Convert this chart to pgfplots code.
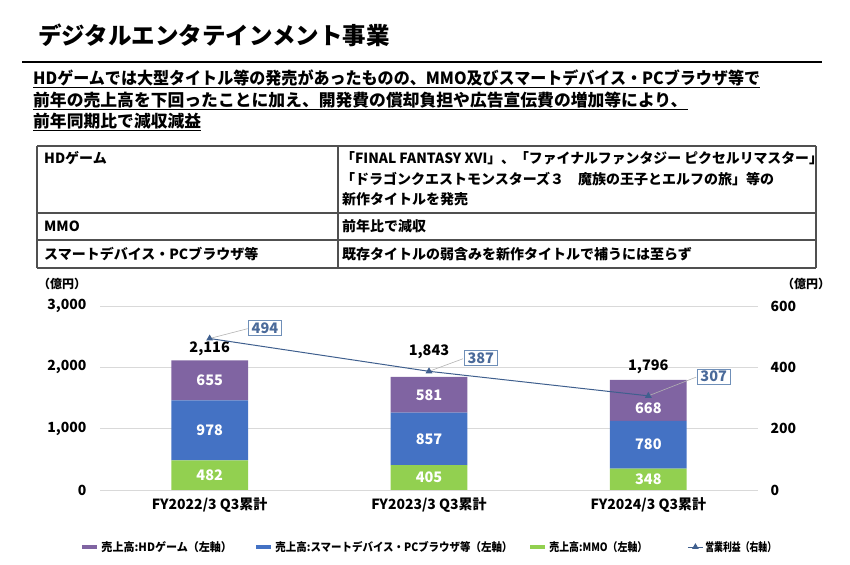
\documentclass[border=0pt]{standalone}
\usepackage{pgfplots}
\pgfplotsset{compat=1.18}
\usepackage{fontspec}
\setmainfont{Noto Sans CJK JP}
\definecolor{hdpurple}{HTML}{8064A2}
\definecolor{smblue}{HTML}{4472C4}
\definecolor{mmogreen}{HTML}{92D050}
\definecolor{oplinecol}{HTML}{3F5F8E}
\definecolor{calloutcol}{HTML}{4A6A9A}
\definecolor{calloutbox}{HTML}{6F8FB8}
\definecolor{gridcol}{HTML}{D9D9D9}
\definecolor{tablecol}{HTML}{505050}
\newcommand{\myfs}[1]{\fontsize{#1bp}{#1bp}\selectfont}
\tikzset{
  barval/.style={font=\myfs{14.5}\bfseries, text=white},
  totval/.style={font=\myfs{14.5}\bfseries, text=black},
  callout/.style={draw=calloutbox, fill=white, text=calloutcol, line width=0.8bp, inner xsep=3bp, inner ysep=2bp, font=\myfs{14.5}\bfseries},
}
\begin{document}
\begin{tikzpicture}
\begin{scope}[x=1bp,y=1bp]
\path[use as bounding box] (0,0) rectangle (850,565);
% title
\node[anchor=west,inner sep=0] at (38,530) {\myfs{23.5}\bfseries デジタルエンタテインメント事業};
\draw[line width=2.2bp] (22,503) -- (822,503);
% header text
\node[anchor=base west,inner sep=0] (h1) at (33,480) {\myfs{16.8}\bfseries\scalebox{0.955}[1]{HDゲームでは大型タイトル等の発売があったものの、MMO及びスマートデバイス・PCブラウザ等で}};
\node[anchor=base west,inner sep=0] (h2) at (33,458) {\myfs{16.8}\bfseries 前年の売上高を下回ったことに加え、開発費の償却負担や広告宣伝費の増加等により、};
\node[anchor=base west,inner sep=0] (h3) at (33,437) {\myfs{16.8}\bfseries 前年同期比で減収減益};
\draw[line width=1.3bp] ([yshift=-2.5bp]h1.base west) -- ([yshift=-2.5bp]h1.base east);
\draw[line width=1.3bp] ([yshift=-2.5bp]h2.base west) -- ([yshift=-2.5bp]h2.base east);
\draw[line width=1.3bp] ([yshift=-2.5bp]h3.base west) -- ([yshift=-2.5bp]h3.base east);
% table
\draw[tablecol,line width=1.4bp] (37,419) -- (816,419);
\draw[tablecol,line width=1.1bp] (37,352) -- (816,352);
\draw[tablecol,line width=1.1bp] (37,325) -- (816,325);
\draw[tablecol,line width=1.4bp] (37,297) -- (816,297);
\draw[tablecol,line width=1.1bp] (37,419) -- (37,297);
\draw[tablecol,line width=1.1bp] (338,419) -- (338,297);
\draw[tablecol,line width=1.1bp] (816,419) -- (816,297);
\node[anchor=west,inner sep=0] at (44,407) {\myfs{14}\bfseries HDゲーム};
\node[anchor=west,inner sep=0] at (341,407) {\myfs{14}\bfseries\scalebox{0.99}[1]{「FINAL FANTASY XVI」、「ファイナルファンタジー ピクセルリマスター」}};
\node[anchor=west,inner sep=0] at (341,386) {\myfs{14}\bfseries 「ドラゴンクエストモンスターズ３　魔族の王子とエルフの旅」等の};
\node[anchor=west,inner sep=0] at (342,366) {\myfs{14}\bfseries 新作タイトルを発売};
\node[anchor=west,inner sep=0] at (44,338.5) {\myfs{14}\bfseries MMO};
\node[anchor=west,inner sep=0] at (342,338.5) {\myfs{14}\bfseries 前年比で減収};
\node[anchor=west,inner sep=0] at (44,311) {\myfs{14}\bfseries スマートデバイス・PCブラウザ等};
\node[anchor=west,inner sep=0] at (342,311) {\myfs{14}\bfseries 既存タイトルの弱含みを新作タイトルで補うには至らず};
% unit labels
\node[anchor=west,inner sep=0] at (38,281) {\myfs{12}\bfseries （億円）};
\node[anchor=west,inner sep=0] at (782,281) {\myfs{12}\bfseries （億円）};
\end{scope}
% left axis: stacked bars
\begin{axis}[
  at={(100bp,75bp)}, anchor=south west,
  width=658bp, height=184bp, scale only axis,
  xmin=-0.5, xmax=2.5, ymin=0, ymax=3000,
  ytick={0,1000,2000,3000},
  yticklabels={0,{1,000},{2,000},{3,000}},
  xtick={0,1,2},
  xticklabels={FY2022/3 Q3累計,FY2023/3 Q3累計,FY2024/3 Q3累計},
  axis line style={draw=none}, major tick length=0,
  ymajorgrids, grid style={gridcol,line width=0.9bp},
  ybar stacked, bar width=0.35,
  tick label style={font=\myfs{14}\bfseries},
  yticklabel style={xshift=-10bp},
  xticklabel style={yshift=-4bp},
]
\addplot[fill=mmogreen,draw=none] coordinates {(0,482) (1,405) (2,348)};
\addplot[fill=smblue,draw=none] coordinates {(0,978) (1,857) (2,780)};
\addplot[fill=hdpurple,draw=none] coordinates {(0,655) (1,581) (2,668)};
\node[totval] at (axis cs:0,2300) {2,116};
\node[totval] at (axis cs:1,2251) {1,843};
\node[totval] at (axis cs:2,2006) {1,796};
\end{axis}
% right axis: operating profit
\begin{axis}[
  at={(100bp,75bp)}, anchor=south west,
  width=658bp, height=184bp, scale only axis,
  xmin=-0.5, xmax=2.5, ymin=0, ymax=600,
  axis y line*=right, axis x line=none,
  ytick={0,200,400,600},
  yticklabels={0,200,400,600},
  axis line style={draw=none}, major tick length=0,
  tick label style={font=\myfs{14}\bfseries},
  yticklabel style={xshift=9bp},
  legend columns=4,
  legend image code/.code={\draw[mark repeat=2,mark phase=2,#1] plot coordinates {(0bp,0bp) (7.5bp,0bp) (15bp,0bp)};},
  legend style={at={(-0.030,-0.31)}, anchor=west, draw=none, fill=none,
    font=\myfs{11.5}\bfseries, inner sep=0pt,
    nodes={inner sep=0pt},
    /tikz/every odd column/.append style={column sep=2bp},
    /tikz/every even column/.append style={column sep=0bp}},
  legend cell align=left,
]
\addlegendimage{hdpurple,line width=4bp}
\addlegendentry{\makebox[153bp][l]{\scalebox{0.96}[1]{売上高:HDゲーム（左軸）}}}
\addlegendimage{smblue,line width=4bp}
\addlegendentry{\makebox[253bp][l]{\scalebox{0.91}[1]{売上高:スマートデバイス・PCブラウザ等（左軸）}}}
\addlegendimage{mmogreen,line width=4bp}
\addlegendentry{\makebox[138bp][l]{\scalebox{0.86}[1]{売上高:MMO（左軸）}}}
\addlegendimage{oplinecol,line width=0.9bp,mark=triangle*,mark size=3bp,mark options={fill=oplinecol}}
\addlegendentry{\scalebox{0.77}[1]{営業利益（右軸）}}
% bar value labels (right-axis units = left/5)
\node[barval] at (axis cs:0,48.2) {482};
\node[barval] at (axis cs:0,194.2) {978};
\node[barval] at (axis cs:0,357.4) {655};
\node[barval] at (axis cs:1,40.4) {405};
\node[barval] at (axis cs:1,166.6) {857};
\node[barval] at (axis cs:1,310.4) {581};
\node[barval] at (axis cs:2,36) {348};
\node[barval] at (axis cs:2,149) {780};
\node[barval] at (axis cs:2,268) {668};
\addplot[oplinecol,line width=1bp,mark=triangle*,mark size=3bp,mark options={fill=oplinecol},forget plot] coordinates {(0,494) (1,387) (2,307)};
\draw[gray!60,line width=0.6bp] (axis cs:0,494) -- (axis cs:0.173,526);
\draw[gray!60,line width=0.6bp] (axis cs:1,387) -- (axis cs:1.155,428);
\draw[gray!60,line width=0.6bp] (axis cs:2,307) -- (axis cs:2.218,368);
\node[callout] at (axis cs:0.252,528) {494};
\node[callout] at (axis cs:1.236,430) {387};
\node[callout] at (axis cs:2.298,370) {307};
\end{axis}
\end{tikzpicture}
\end{document}
